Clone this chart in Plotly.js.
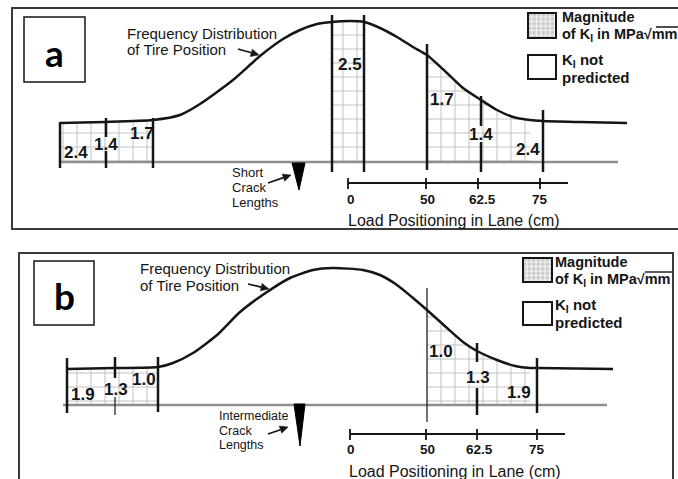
<!DOCTYPE html>
<html>
<head>
<meta charset="utf-8">
<script src="https://cdn.plot.ly/plotly-3.0.1.min.js"></script>
<style>
  html, body { margin: 0; padding: 0; background: #ffffff; }
  #chart { width: 678px; height: 479px; }
</style>
</head>
<body>
<div id="chart"></div>
<script>
// Frequency distribution of tire position across the lane:
// station along the lane and curve height above the pavement line.
const stationA = [60, 105, 153, 180, 200, 233, 260, 283, 300, 317, 332, 350, 364, 380, 397, 413, 427, 447, 463, 481, 497, 513, 530, 543, 580, 627];
const freqA    = [39, 40, 42, 47, 58, 82, 106, 123, 132, 138, 140, 141, 140, 134, 125, 115, 107, 89, 74, 62, 52, 45, 42, 41, 40, 39];

const stationB = [67, 115, 158, 173, 193, 217, 240, 267, 290, 313, 333, 363, 380, 397, 413, 427, 447, 463, 477, 497, 515, 530, 537, 613];
const freqB    = [36, 37, 38, 42, 52, 70, 93, 113, 127, 135, 137, 135, 130, 120, 107, 95, 77, 63, 54, 45, 39, 37, 37, 36];

// Stretches of the lane where K_I was predicted: [start, end]
const kZonesA = [[60, 153], [332, 364], [427, 530]];
const kZonesB = [[67, 158], [427, 530]];

// K_I magnitudes (MPa√mm) written in each sub-zone
const kValuesA = ['2.4', '1.4', '1.7', '2.5', '1.7', '1.4', '2.4'];
const kValuesB = ['1.9', '1.3', '1.0', '1.0', '1.3', '1.9'];

// Load positioning scale
const laneTickLabels = ['0', '50', '62.5', '75'];

// Crack length class of each panel
const panelLetters = ['a', 'b'];
const crackClass = [['Short', 'Crack', 'Lengths'], ['Intermediate', 'Crack', 'Lengths']];

const FONT = 'Liberation Sans, Arial, sans-serif';
const INK = '#151515';

// Panel geometry (rows measured from the top of the page; base = pavement line row)
const panels = [
  {
    xr: 'x', yr: 'y', base: 162,
    station: stationA, freq: freqA, zones: kZonesA, values: kValuesA,
    valuePos: [[76, 152], [106, 144], [142, 133], [350, 64], [442, 99], [481, 134], [528, 149]],
    frame: [12, 8, 720, 229],
    letterBox: [24, 17, 85, 82], letterPos: [54, 52],
    bounds: [[60, 122, 168, 2.5], [106, 118, 137, 2.5], [106, 151, 168, 2.5], [153, 118, 168, 2.5],
             [332, 15, 172, 2.5], [364, 15, 172, 2.5], [427, 44, 170, 2.5],
             [481, 96, 126, 2.5], [481, 142, 172, 2.5], [543, 110, 172, 2.5]],
    pavement: [60, 618],
    tri: [292, 305, 163, 299, 190],
    crackText: [230, 172, 15, 13], crackArrow: [268, 183, 291, 175],
    freqText: [125, 33, 16], freqArrow: [238, 49, 259, 55],
    scale: { x0: 348, x1: 568, row: 183, t0: 178, t1: 189, ticks: [348, 426, 478, 540], labelX: [351, 427, 482, 540], labelRow: 199, titleX: 454, titleRow: 220 },
    legend: { hatch: [528, 13, 556, 38], empty: [528, 55, 556, 79], textX: 560, rows: [17, 35, 60, 77], bar: [656, 690, 27] }
  },
  {
    xr: 'x2', yr: 'y2', base: 405,
    station: stationB, freq: freqB, zones: kZonesB, values: kValuesB,
    valuePos: [[83, 394], [116, 389], [144, 379], [441, 351], [478, 377], [519, 392]],
    frame: [19, 253, 673, 520],
    letterBox: [34, 261, 94, 325], letterPos: [64, 295],
    bounds: [[67, 358, 413, 2.5], [115, 357, 378, 2.5], [115, 397, 415, 1.2], [158, 357, 412, 2.5],
             [427, 288, 422, 1.2], [477, 343, 362, 2.5], [477, 388, 415, 2.5], [537, 358, 413, 2.5]],
    pavement: [63, 607],
    tri: [294, 305, 404, 300, 446],
    crackText: [217, 416, 14.5, 12.5], crackArrow: [268, 434, 288, 427],
    freqText: [138, 268, 17], freqArrow: [248, 284, 269, 289],
    scale: { x0: 350, x1: 565, row: 434, t0: 429, t1: 440, ticks: [350, 426, 477, 537], labelX: [351, 427, 479, 537], labelRow: 449, titleX: 455, titleRow: 471 },
    legend: { hatch: [523, 258, 552, 282], empty: [523, 302, 552, 325], textX: 553, rows: [262, 280, 305, 322], bar: [645, 672, 272] }
  }
];

const traces = [];
const shapes = [];
const annotations = [];

panels.forEach((p, pi) => {
  const Y = r => p.base - r;
  const xref = p.xr, yref = p.yr;

  // hatched K_I zones under the curve
  p.zones.forEach(([z0, z1]) => {
    const xs = [z0], ys = [0];
    p.station.forEach((s, i) => {
      if (s >= z0 && s <= z1) { xs.push(s); ys.push(p.freq[i]); }
    });
    xs.push(z1, z0); ys.push(0, 0);
    traces.push({
      type: 'scatter', mode: 'lines', x: xs, y: ys, xaxis: xref, yaxis: yref,
      fill: 'toself', fillcolor: '#ffffff', line: { width: 0 }, hoverinfo: 'skip', showlegend: false,
      fillpattern: { shape: '+', fgcolor: '#c2c2c2', bgcolor: '#ffffff', size: 14, solidity: 0.14 }
    });
  });

  // frequency distribution curve
  traces.push({
    type: 'scatter', mode: 'lines', x: p.station, y: p.freq, xaxis: xref, yaxis: yref,
    line: { color: INK, width: 2.5, shape: 'spline', smoothing: 0.6 }, hoverinfo: 'skip', showlegend: false
  });

  const line = (x0, r0, x1, r1, color, width) =>
    ({ type: 'line', xref, yref, x0, x1, y0: Y(r0), y1: Y(r1), line: { color, width } });
  const rect = (b, color, width, fill) =>
    ({ type: 'rect', xref, yref, x0: b[0], x1: b[2], y0: Y(b[1]), y1: Y(b[3]), line: { color, width }, fillcolor: fill || 'rgba(0,0,0,0)' });
  const text = (x, r, t, size, bold, anchor) => ({
    xref, yref, x, y: Y(r), text: bold ? '<b>' + t + '</b>' : t, showarrow: false,
    xanchor: anchor || 'center', yanchor: 'middle', align: 'left',
    font: { family: FONT, size, color: INK }
  });
  // pointer arrow: a stroke plus a filled head (axis units are 1:1 with pixels)
  const arrow = (tx, tr, hx, hr) => {
    const x0 = tx, y0 = Y(tr), x1 = hx, y1 = Y(hr);
    const len = Math.hypot(x1 - x0, y1 - y0);
    const ux = (x1 - x0) / len, uy = (y1 - y0) / len;
    const bx = x1 - ux * 8, by = y1 - uy * 8;
    const nx = -uy * 3.8, ny = ux * 3.8;
    shapes.push({ type: 'line', xref, yref, x0, y0, x1: bx, y1: by, line: { color: INK, width: 1.6 } });
    shapes.push({
      type: 'path', xref, yref, fillcolor: INK, line: { color: INK, width: 0.5 },
      path: `M${x1},${y1} L${bx + nx},${by + ny} L${bx - nx},${by - ny} Z`
    });
  };

  // outer frame and panel letter
  shapes.push(rect(p.frame, '#3a3a3a', 2));
  shapes.push(rect(p.letterBox, INK, 1.5));
  annotations.push({
    xref, yref, x: p.letterPos[0], y: Y(p.letterPos[1]), text: '<b>' + panelLetters[pi] + '</b>',
    showarrow: false, font: { family: 'Lato, sans-serif', size: 37, color: '#000' }
  });

  // pavement line
  shapes.push(line(p.pavement[0], p.base, p.pavement[1], p.base, '#8e8e8e', 2.5));

  // zone boundaries
  p.bounds.forEach(([x, r0, r1, w]) => shapes.push(line(x, r0, x, r1, INK, w)));

  // crack-length marker
  const t = p.tri;
  shapes.push({
    type: 'path', xref, yref,
    path: `M${t[0]},${Y(t[2])} L${t[1]},${Y(t[2])} L${t[3]},${Y(t[4])} Z`,
    fillcolor: '#000', line: { color: '#000', width: 1 }
  });
  crackClass[pi].forEach((w, i) => {
    annotations.push(text(p.crackText[0], p.crackText[1] + i * p.crackText[2], w, p.crackText[3], false, 'left'));
  });
  arrow(...p.crackArrow);

  // frequency curve caption
  annotations.push(text(p.freqText[0], p.freqText[1], 'Frequency Distribution', 15, false, 'left'));
  annotations.push(text(p.freqText[0], p.freqText[1] + p.freqText[2], 'of Tire Position', 15, false, 'left'));
  arrow(...p.freqArrow);

  // K_I magnitudes
  p.values.forEach((v, i) => {
    annotations.push(text(p.valuePos[i][0], p.valuePos[i][1], v, 17, true));
  });

  // load positioning scale
  const s = p.scale;
  shapes.push(line(s.x0, s.row, s.x1, s.row, INK, 1.8));
  s.ticks.forEach(x => shapes.push(line(x, s.t0, x, s.t1, INK, 1.8)));
  laneTickLabels.forEach((lab, i) => annotations.push(text(s.labelX[i], s.labelRow, lab, 13.5, true)));
  annotations.push(text(s.titleX, s.titleRow, 'Load Positioning in Lane (cm)', 16, false));

  // legend
  const L = p.legend;
  const hb = L.hatch;
  shapes.push(rect(hb, 'rgba(0,0,0,0)', 0, '#cdcdcd'));
  let grid = '';
  for (let x = hb[0] + 4; x < hb[2] - 1; x += 4.5) grid += `M${x},${Y(hb[1])} L${x},${Y(hb[3])} `;
  for (let r = hb[1] + 4; r < hb[3] - 1; r += 4.5) grid += `M${hb[0]},${Y(r)} L${hb[2]},${Y(r)} `;
  shapes.push({ type: 'path', xref, yref, path: grid, line: { color: '#f2f2f2', width: 1.2 } });
  shapes.push(rect(hb, INK, 2));
  shapes.push(rect(L.empty, INK, 2));
  annotations.push(text(L.textX, L.rows[0], 'Magnitude', 14.5, true, 'left'));
  annotations.push(text(L.textX, L.rows[1], 'of K<sub>I</sub> in MPa√mm', 14.5, true, 'left'));
  annotations.push(text(L.textX, L.rows[2], 'K<sub>I</sub> not', 15, true, 'left'));
  annotations.push(text(L.textX, L.rows[3], 'predicted', 15, true, 'left'));
  // radical bar over "mm"
  shapes.push(line(L.bar[0], L.bar[2], L.bar[1], L.bar[2], INK, 1.4));
});

const hidden = { visible: false, fixedrange: true, showgrid: false, zeroline: false };
const topDomain = 1 - 240 / 479;

const layout = {
  width: 678, height: 479,
  margin: { l: 0, r: 0, t: 0, b: 0, pad: 0 },
  paper_bgcolor: '#ffffff', plot_bgcolor: '#ffffff',
  showlegend: false,
  xaxis: Object.assign({ range: [0, 678], domain: [0, 1], anchor: 'y' }, hidden),
  yaxis: Object.assign({ range: [162 - 240, 162], domain: [topDomain, 1], anchor: 'x' }, hidden),
  xaxis2: Object.assign({ range: [0, 678], domain: [0, 1], anchor: 'y2' }, hidden),
  yaxis2: Object.assign({ range: [405 - 479, 405 - 240], domain: [0, topDomain], anchor: 'x2' }, hidden),
  shapes, annotations
};

Plotly.newPlot('chart', traces, layout, { staticPlot: true, displayModeBar: false });
</script>
</body>
</html>
